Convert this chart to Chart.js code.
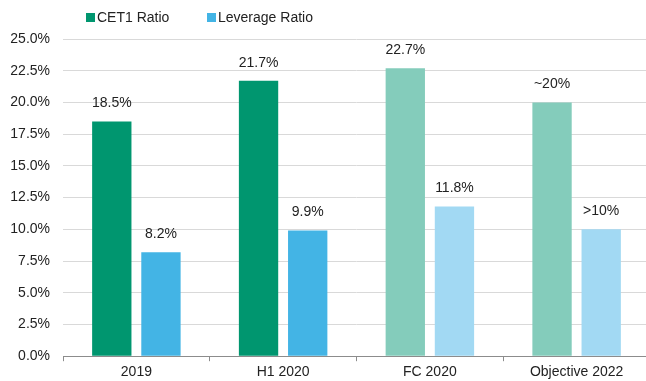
<!DOCTYPE html>
<html>
<head>
<meta charset="utf-8">
<script src="https://cdn.jsdelivr.net/npm/chart.js@4"></script>
<style>
  html, body { margin: 0; padding: 0; background: #fff; overflow: hidden; }
  #wrap { width: 650px; height: 381px; }
</style>
</head>
<body>
<div id="wrap"><canvas id="capitalChart"></canvas></div>
<script>
const categories = ['2019', 'H1 2020', 'FC 2020', 'Objective 2022'];
const cet1Values = [18.5, 21.7, 22.7, 20];
const leverageValues = [8.2, 9.9, 11.8, 10];
const cet1Labels = ['18.5%', '21.7%', '22.7%', '~20%'];
const leverageLabels = ['8.2%', '9.9%', '11.8%', '>10%'];
const yTicks = [0, 2.5, 5, 7.5, 10, 12.5, 15, 17.5, 20, 22.5, 25];

const FONT = '"Liberation Sans", Arial, sans-serif';
const colors = {
    cet1: '#00966f',
    cet1Light: '#84ccbb',
    lev: '#43b4e5',
    levLight: '#a2d9f3'
};

// labels drawn above each bar
const barLabels = {
    id: 'barLabels',
    afterDatasetsDraw(chart) {
        const ctx = chart.ctx;
        const texts = [cet1Labels, leverageLabels];
        ctx.save();
        ctx.font = '14px ' + FONT;
        ctx.fillStyle = '#222';
        ctx.textAlign = 'center';
        ctx.textBaseline = 'bottom';
        chart.data.datasets.forEach((ds, i) => {
            chart.getDatasetMeta(i).data.forEach((bar, j) => {
                ctx.fillText(texts[i][j], bar.x, bar.y - 11);
            });
        });
        ctx.restore();
    }
};

// simple legend at the top left, tight box/text spacing like the original
const topLegend = {
    id: 'topLegend',
    afterDraw(chart) {
        const ctx = chart.ctx;
        const items = chart.data.datasets.map((ds, i) => ({
            text: ds.label,
            color: ds.backgroundColor[0],
            x: [86, 207][i]
        }));
        ctx.save();
        ctx.font = '14px ' + FONT;
        ctx.textBaseline = 'middle';
        items.forEach(it => {
            ctx.fillStyle = it.color;
            ctx.fillRect(it.x, 13, 9, 9);
            ctx.fillStyle = '#222';
            ctx.fillText(it.text, it.x + 11, 18);
        });
        ctx.restore();
    }
};

new Chart(document.getElementById('capitalChart'), {
    type: 'bar',
    data: {
        labels: categories,
        datasets: [{
            label: 'CET1 Ratio',
            data: cet1Values,
            backgroundColor: [colors.cet1, colors.cet1, colors.cet1Light, colors.cet1Light],
            barPercentage: 0.8,
            categoryPercentage: 0.67
        }, {
            label: 'Leverage Ratio',
            data: leverageValues,
            backgroundColor: [colors.lev, colors.lev, colors.levLight, colors.levLight],
            barPercentage: 0.8,
            categoryPercentage: 0.67
        }]
    },
    options: {
        responsive: true,
        maintainAspectRatio: false,
        animation: false,
        layout: { padding: { top: 39, right: 0, bottom: -3, left: 0 } },
        plugins: {
            legend: { display: false },
            tooltip: { enabled: false }
        },
        scales: {
            x: {
                offset: true,
                grid: {
                    offset: true,
                    drawOnChartArea: false,
                    tickLength: 5,
                    color: '#8c8c8c'
                },
                border: { color: '#8c8c8c' },
                ticks: {
                    color: '#222',
                    padding: 3,
                    font: { family: FONT, size: 14 }
                }
            },
            y: {
                min: 0,
                max: 25,
                afterBuildTicks: (scale) => { scale.ticks = yTicks.map(v => ({ value: v })); },
                afterFit: (scale) => { scale.width = 63; },
                grid: { color: '#d9d9d9', drawTicks: false },
                border: { display: false },
                ticks: {
                    color: '#222',
                    padding: 13,
                    font: { family: FONT, size: 14 },
                    callback: (v) => v.toFixed(1) + '%'
                }
            }
        }
    },
    plugins: [barLabels, topLegend]
});
</script>
</body>
</html>
